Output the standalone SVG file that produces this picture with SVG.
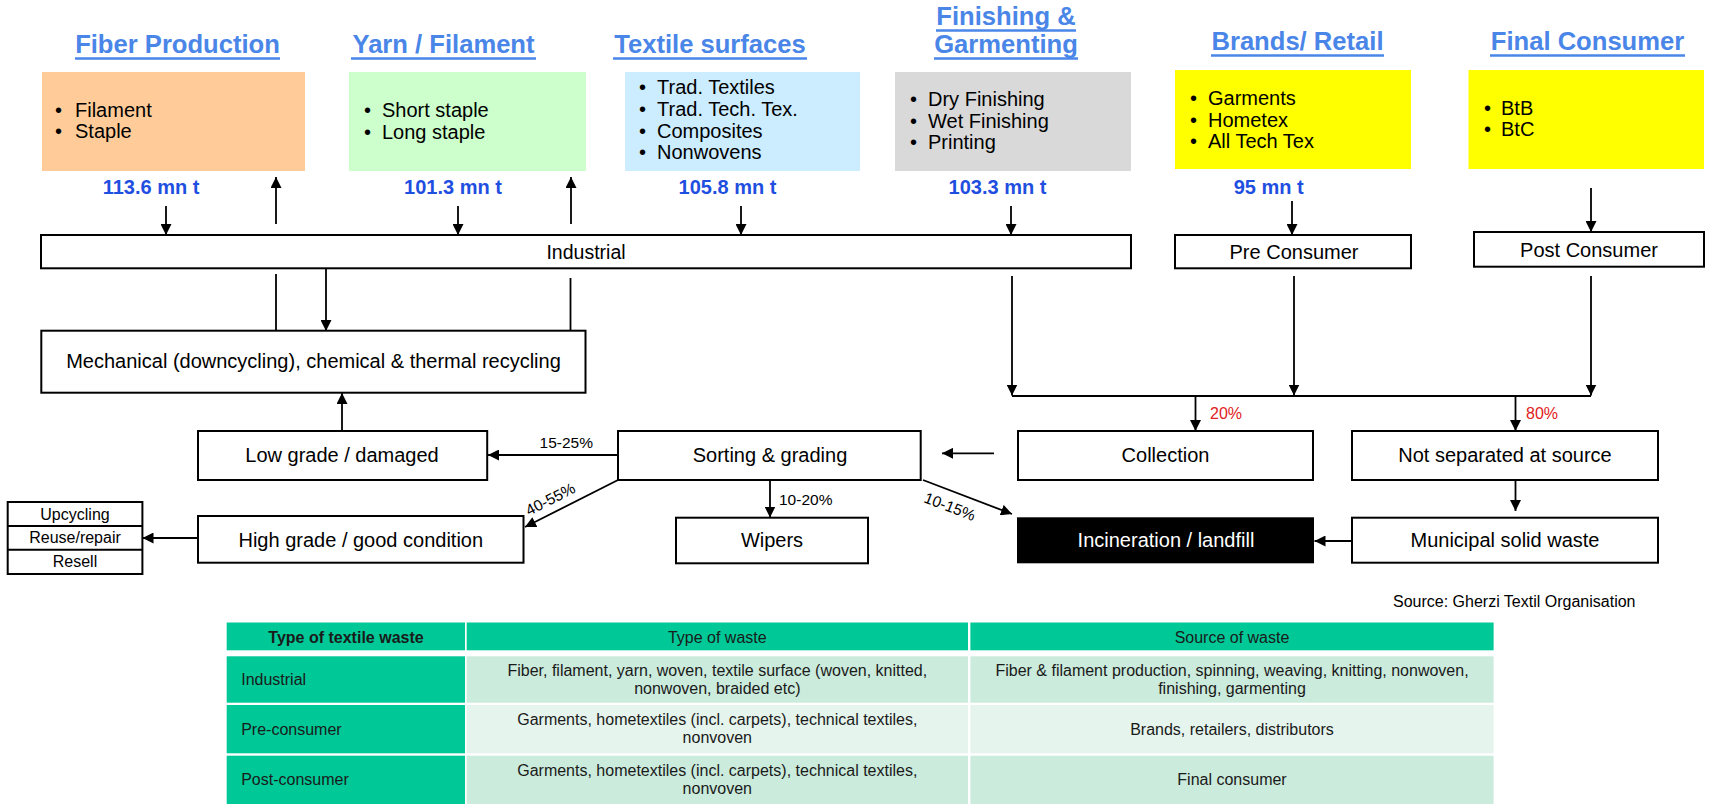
<svg xmlns="http://www.w3.org/2000/svg" width="1713" height="811" viewBox="0 0 1713 811">
<defs>
<marker id="ah" markerUnits="userSpaceOnUse" markerWidth="11" markerHeight="11" refX="11" refY="5.5" orient="auto">
<path d="M0,0 L11,5.5 L0,11 z" fill="#000"/>
</marker>
<style>
text{font-family:"Liberation Sans",Arial,sans-serif;fill:#000}
.title{font-size:25.6px;font-weight:bold;fill:#4A86E8;text-anchor:middle}
.ul{stroke:#4A86E8;stroke-width:2.5}
.bul{font-size:20px}
.num{font-size:20px;font-weight:bold;fill:#1F4FE0;text-anchor:middle}
.box{fill:#fff;stroke:#000;stroke-width:2}
.bt{font-size:20px;text-anchor:middle}
.lbl{font-size:15.5px}
.red{font-size:16px;fill:#E02020}
.c{stroke:#000;stroke-width:1.8;fill:none}
.a{stroke:#000;stroke-width:1.8;fill:none;marker-end:url(#ah)}
.th{fill:#00C896}
.r1{fill:#CBEBDC}
.r2{fill:#E5F4EC}
.tt{font-size:16px;fill:#1a1a1a}
.ttc{font-size:16px;fill:#1a1a1a;text-anchor:middle}
</style>
</defs>
<rect width="1713" height="811" fill="#fff"/>

<!-- Stage titles and boxes -->
<g id="fiber">
<text class="title" x="177.5" y="53.3">Fiber Production</text>
<line class="ul" x1="75" y1="58.5" x2="280" y2="58.5"/>
<rect x="42" y="72" width="263" height="99" fill="#FFCC99"/>
<text class="bul" x="55" y="116.7">•</text><text class="bul" x="75" y="116.7">Filament</text>
<text class="bul" x="55" y="138.3">•</text><text class="bul" x="75" y="138.3">Staple</text>
<text class="num" x="151" y="194.3">113.6 mn t</text>
</g>
<g id="yarn">
<text class="title" x="443.5" y="53.3">Yarn / Filament</text>
<line class="ul" x1="351" y1="58.5" x2="536" y2="58.5"/>
<rect x="349" y="72" width="237" height="99" fill="#CCFFCC"/>
<text class="bul" x="364" y="117">•</text><text class="bul" x="382" y="117">Short staple</text>
<text class="bul" x="364" y="138.5">•</text><text class="bul" x="382" y="138.5">Long staple</text>
<text class="num" x="453" y="194.3">101.3 mn t</text>
</g>
<g id="textile">
<text class="title" x="710" y="53.3">Textile surfaces</text>
<line class="ul" x1="613" y1="58.5" x2="807" y2="58.5"/>
<rect x="625" y="72" width="235" height="99" fill="#CCECFF"/>
<text class="bul" x="639" y="94.3">•</text><text class="bul" x="657" y="94.3">Trad. Textiles</text>
<text class="bul" x="639" y="116">•</text><text class="bul" x="657" y="116">Trad. Tech. Tex.</text>
<text class="bul" x="639" y="137.7">•</text><text class="bul" x="657" y="137.7">Composites</text>
<text class="bul" x="639" y="159.3">•</text><text class="bul" x="657" y="159.3">Nonwovens</text>
<text class="num" x="727.5" y="194.3">105.8 mn t</text>
</g>
<g id="finishing">
<text class="title" x="1006" y="25">Finishing &amp;</text>
<line class="ul" x1="936" y1="30.5" x2="1076" y2="30.5"/>
<text class="title" x="1006" y="53.3">Garmenting</text>
<line class="ul" x1="934" y1="58.5" x2="1078" y2="58.5"/>
<rect x="895" y="72" width="236" height="99" fill="#D9D9D9"/>
<text class="bul" x="910" y="106">•</text><text class="bul" x="928" y="106">Dry Finishing</text>
<text class="bul" x="910" y="127.7">•</text><text class="bul" x="928" y="127.7">Wet Finishing</text>
<text class="bul" x="910" y="149.3">•</text><text class="bul" x="928" y="149.3">Printing</text>
<text class="num" x="997.5" y="194.3">103.3 mn t</text>
</g>
<g id="brands">
<text class="title" x="1297.5" y="50">Brands/ Retail</text>
<line class="ul" x1="1211" y1="55.5" x2="1384" y2="55.5"/>
<rect x="1175" y="70" width="236" height="99" fill="#FFFF00"/>
<text class="bul" x="1190" y="105">•</text><text class="bul" x="1208" y="105">Garments</text>
<text class="bul" x="1190" y="126.7">•</text><text class="bul" x="1208" y="126.7">Hometex</text>
<text class="bul" x="1190" y="147.7">•</text><text class="bul" x="1208" y="147.7">All Tech Tex</text>
<text class="num" x="1268.7" y="194">95 mn t</text>
</g>
<g id="consumer">
<text class="title" x="1587.5" y="50">Final Consumer</text>
<line class="ul" x1="1490" y1="55.5" x2="1685" y2="55.5"/>
<rect x="1468.5" y="70" width="235.5" height="99" fill="#FFFF00"/>
<text class="bul" x="1484" y="115">•</text><text class="bul" x="1501" y="115">BtB</text>
<text class="bul" x="1484" y="136">•</text><text class="bul" x="1501" y="136">BtC</text>
</g>

<!-- Flow nodes -->
<g id="industrial"><rect class="box" x="41" y="235" width="1090" height="33.3"/><text class="bt" x="586" y="258.5" style="font-size:19.5px">Industrial</text></g>
<g id="preconsumer"><rect class="box" x="1175" y="235" width="236" height="33.3"/><text class="bt" x="1294" y="258.5">Pre Consumer</text></g>
<g id="postconsumer"><rect class="box" x="1474" y="232" width="230" height="34.7"/><text class="bt" x="1589" y="256.5">Post Consumer</text></g>
<g id="mechanical"><rect class="box" x="41.3" y="330.7" width="544.2" height="62"/><text class="bt" x="313.5" y="368.3">Mechanical (downcycling), chemical &amp; thermal recycling</text></g>
<g id="lowgrade"><rect class="box" x="198" y="431" width="289.2" height="49"/><text class="bt" x="342" y="461.7">Low grade / damaged</text></g>
<g id="sorting"><rect class="box" x="618" y="431" width="302.7" height="49"/><text class="bt" x="770" y="461.7">Sorting &amp; grading</text></g>
<g id="collection"><rect class="box" x="1018" y="431" width="295" height="49"/><text class="bt" x="1165.5" y="461.7">Collection</text></g>
<g id="notseparated"><rect class="box" x="1352" y="431" width="306" height="49"/><text class="bt" x="1505" y="461.7">Not separated at source</text></g>
<g id="highgrade"><rect class="box" x="198" y="516" width="325.5" height="46.7"/><text class="bt" x="360.8" y="546.7">High grade / good condition</text></g>
<g id="wipers"><rect class="box" x="676" y="517.7" width="192" height="45.6"/><text class="bt" x="772" y="547.3">Wipers</text></g>
<g id="incineration"><rect x="1017" y="517.3" width="297" height="46" fill="#000"/><text class="bt" x="1166" y="547.3" style="fill:#fff">Incineration / landfill</text></g>
<g id="municipal"><rect class="box" x="1352" y="517.7" width="306" height="45"/><text class="bt" x="1505" y="547.3">Municipal solid waste</text></g>
<g id="reuse">
<rect class="box" x="7.7" y="502" width="134.7" height="72"/>
<line class="c" x1="7.7" y1="526" x2="142.4" y2="526" style="stroke-width:2"/>
<line class="c" x1="7.7" y1="549.7" x2="142.4" y2="549.7" style="stroke-width:2"/>
<text x="75" y="520" style="font-size:16px;text-anchor:middle">Upcycling</text>
<text x="75" y="543.3" style="font-size:16px;text-anchor:middle">Reuse/repair</text>
<text x="75" y="567.3" style="font-size:16px;text-anchor:middle">Resell</text>
</g>

<!-- Connectors -->
<g id="connectors">
<line class="a" x1="166" y1="206" x2="166" y2="235"/>
<line class="a" x1="276" y1="224" x2="276" y2="177"/>
<line class="a" x1="458" y1="206" x2="458" y2="235"/>
<line class="a" x1="571" y1="224" x2="571" y2="177"/>
<line class="a" x1="741" y1="206" x2="741" y2="235"/>
<line class="a" x1="1011" y1="206" x2="1011" y2="235"/>
<line class="a" x1="1292" y1="201" x2="1292" y2="235"/>
<line class="a" x1="1591" y1="188" x2="1591" y2="232"/>
<line class="c" x1="276" y1="274" x2="276" y2="331"/>
<line class="a" x1="326" y1="268" x2="326" y2="331"/>
<line class="c" x1="570.5" y1="278" x2="570.5" y2="331"/>
<line class="a" x1="1012" y1="276" x2="1012" y2="395.5"/>
<line class="a" x1="1294" y1="276" x2="1294" y2="395.5"/>
<line class="a" x1="1591" y1="276" x2="1591" y2="395.5"/>
<line class="c" x1="1012" y1="396" x2="1591" y2="396"/>
<line class="a" x1="1195.5" y1="396" x2="1195.5" y2="431"/>
<line class="a" x1="1515.5" y1="396" x2="1515.5" y2="431"/>
<line class="a" x1="994" y1="453.3" x2="942" y2="453.3"/>
<line class="a" x1="618" y1="455" x2="488" y2="455"/>
<line class="a" x1="618" y1="480" x2="525" y2="527"/>
<line class="a" x1="770" y1="481" x2="770" y2="517.5"/>
<line class="a" x1="923" y1="480" x2="1012" y2="514"/>
<line class="a" x1="342" y1="431" x2="342" y2="393"/>
<line class="a" x1="198" y1="538" x2="142.5" y2="538"/>
<line class="a" x1="1515.5" y1="480" x2="1515.5" y2="511"/>
<line class="a" x1="1352" y1="541" x2="1314.5" y2="541"/>
<text class="red" x="1210" y="419.3">20%</text>
<text class="red" x="1526" y="419.3">80%</text>
<text class="lbl" x="539.6" y="448.3">15-25%</text>
<text class="lbl" x="779" y="505">10-20%</text>
<text class="lbl" x="529" y="516" transform="rotate(-27 529 516)">40-55%</text>
<text class="lbl" x="923" y="502" transform="rotate(21 923 502)">10-15%</text>
</g>

<text x="1393" y="606.7" style="font-size:16px">Source: Gherzi Textil Organisation</text>

<!-- Table -->
<g id="table">
<rect class="th" x="226.7" y="622.5" width="238.3" height="27.8"/>
<rect class="th" x="466.7" y="622.5" width="501.3" height="27.8"/>
<rect class="th" x="970.4" y="622.5" width="523.2" height="27.8"/>
<rect class="th" x="226.7" y="656.3" width="238.3" height="46.4"/>
<rect class="r1" x="466.7" y="656.3" width="501.3" height="46.4"/>
<rect class="r1" x="970.4" y="656.3" width="523.2" height="46.4"/>
<rect class="th" x="226.7" y="705" width="238.3" height="48.3"/>
<rect class="r2" x="466.7" y="705" width="501.3" height="48.3"/>
<rect class="r2" x="970.4" y="705" width="523.2" height="48.3"/>
<rect class="th" x="226.7" y="755.7" width="238.3" height="48.3"/>
<rect class="r1" x="466.7" y="755.7" width="501.3" height="48.3"/>
<rect class="r1" x="970.4" y="755.7" width="523.2" height="48.3"/>
<text class="ttc" x="346" y="643.3" style="font-weight:bold">Type of textile waste</text>
<text class="ttc" x="717.3" y="643.3">Type of waste</text>
<text class="ttc" x="1232" y="643.3">Source of waste</text>
<text class="tt" x="241.2" y="685">Industrial</text>
<text class="ttc" x="717.3" y="676">Fiber, filament, yarn, woven, textile surface (woven, knitted,</text>
<text class="ttc" x="717.3" y="694.3">nonwoven, braided etc)</text>
<text class="ttc" x="1232" y="676">Fiber &amp; filament production, spinning, weaving, knitting, nonwoven,</text>
<text class="ttc" x="1232" y="694.3">finishing, garmenting</text>
<text class="tt" x="241.2" y="735">Pre-consumer</text>
<text class="ttc" x="717.3" y="725">Garments, hometextiles (incl. carpets), technical textiles,</text>
<text class="ttc" x="717.3" y="743.3">nonvoven</text>
<text class="ttc" x="1232" y="735">Brands, retailers, distributors</text>
<text class="tt" x="241.2" y="785">Post-consumer</text>
<text class="ttc" x="717.3" y="776">Garments, hometextiles (incl. carpets), technical textiles,</text>
<text class="ttc" x="717.3" y="794.3">nonvoven</text>
<text class="ttc" x="1232" y="785">Final consumer</text>
</g>
</svg>
